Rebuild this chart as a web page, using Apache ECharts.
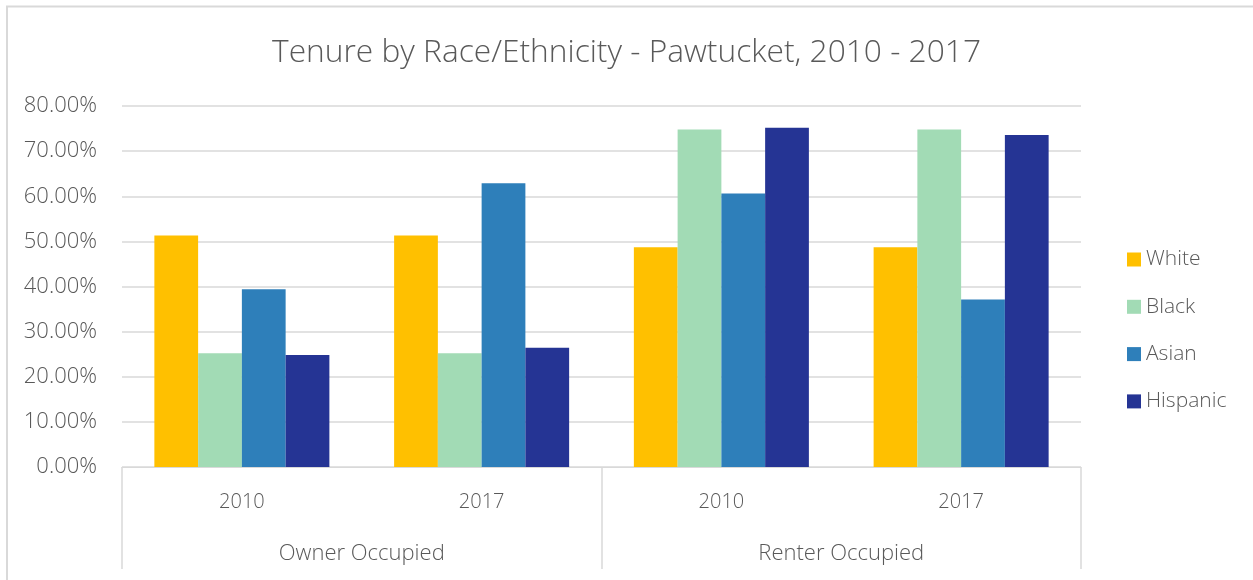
<!DOCTYPE html>
<html>
<head>
<meta charset="utf-8">
<title>Tenure by Race/Ethnicity - Pawtucket, 2010 - 2017</title>
<script src="https://cdn.jsdelivr.net/npm/echarts@6/dist/echarts.min.js"></script>
<style>
  html, body { margin: 0; padding: 0; background: #ffffff; }
  #chart { width: 1253px; height: 580px; }
</style>
</head>
<body>
<div id="chart"></div>
<script>
// Tenure groups and census years (two-level category axis)
var groups = ['Owner Occupied', 'Renter Occupied'];
var years = ['2010', '2017'];

// Share of households (%) per race/ethnicity, ordered
// Owner 2010, Owner 2017, Renter 2010, Renter 2017
var white    = [51.3, 51.3, 48.7, 48.7];
var black    = [25.2, 25.2, 74.8, 74.8];
var asian    = [39.4, 62.9, 60.6, 37.1];
var hispanic = [24.8, 26.4, 75.2, 73.6];

var seriesNames = ['White', 'Black', 'Asian', 'Hispanic'];
var seriesColors = ['#ffc000', '#a2dbb5', '#2e7fba', '#253494'];

var yTicks = { min: 0, max: 80, interval: 10 };

// Inner category list: one slot per (group, year)
var yearSlots = [];
groups.forEach(function () { years.forEach(function (y) { yearSlots.push(y); }); });

var FONT = '"Open Sans", "Segoe UI", sans-serif';
var TEXT = '#595959';
var LINE = '#d9d9d9';

var chart = echarts.init(document.getElementById('chart'), null, { renderer: 'canvas' });

var values = [white, black, asian, hispanic];
var series = values.map(function (arr, i) {
  return {
    name: seriesNames[i],
    type: 'bar',
    xAxisIndex: 0,
    yAxisIndex: 0,
    data: arr,
    barGap: '0%',
    barCategoryGap: '27%',
    itemStyle: { color: seriesColors[i] },
    emphasis: { disabled: true }
  };
});

chart.setOption({
  animation: false,
  backgroundColor: '#ffffff',
  title: {
    text: 'Tenure by Race/Ethnicity - Pawtucket, 2010 - 2017',
    left: 'center',
    top: 32,
    textStyle: { fontFamily: FONT, fontWeight: 300, fontSize: 31.7, color: TEXT }
  },
  legend: {
    orient: 'vertical',
    left: 1122,
    top: 244,
    itemWidth: 14,
    itemHeight: 14,
    itemGap: 26.3,
    icon: 'rect',
    textStyle: { fontFamily: FONT, fontWeight: 300, fontSize: 21, color: TEXT, padding: [0, 0, 0, 0] },
    data: seriesNames
  },
  grid: { left: 122, right: 172, top: 106, bottom: 113, containLabel: false },
  xAxis: [
    {
      type: 'category',
      data: yearSlots,
      position: 'bottom',
      axisLine: { show: true, lineStyle: { color: LINE, width: 1 } },
      axisTick: { show: false },
      axisLabel: { margin: 25, fontFamily: FONT, fontWeight: 300, fontSize: 20, color: TEXT },
      splitLine: { show: false }
    },
    {
      type: 'category',
      data: groups,
      position: 'bottom',
      axisLine: { show: false },
      axisTick: { show: true, length: 102, lineStyle: { color: LINE, width: 1.5 } },
      axisLabel: { margin: 76, fontFamily: FONT, fontWeight: 300, fontSize: 22, color: TEXT },
      splitLine: { show: false }
    }
  ],
  yAxis: {
    type: 'value',
    min: yTicks.min,
    max: yTicks.max,
    interval: yTicks.interval,
    axisLine: { show: false },
    axisTick: { show: false },
    axisLabel: {
      margin: 25,
      fontFamily: FONT, fontWeight: 300, fontSize: 22, color: TEXT,
      formatter: function (v) { return v.toFixed(2) + '%'; }
    },
    splitLine: { lineStyle: { color: LINE, width: 1.5 } }
  },
  graphic: [
    {
      type: 'polyline',
      silent: true,
      shape: { points: [[7, 580], [7, 6.5], [1253, 6.5]] },
      style: { stroke: '#d9d9d9', lineWidth: 2, fill: null }
    }
  ],
  series: series
});
</script>
</body>
</html>
